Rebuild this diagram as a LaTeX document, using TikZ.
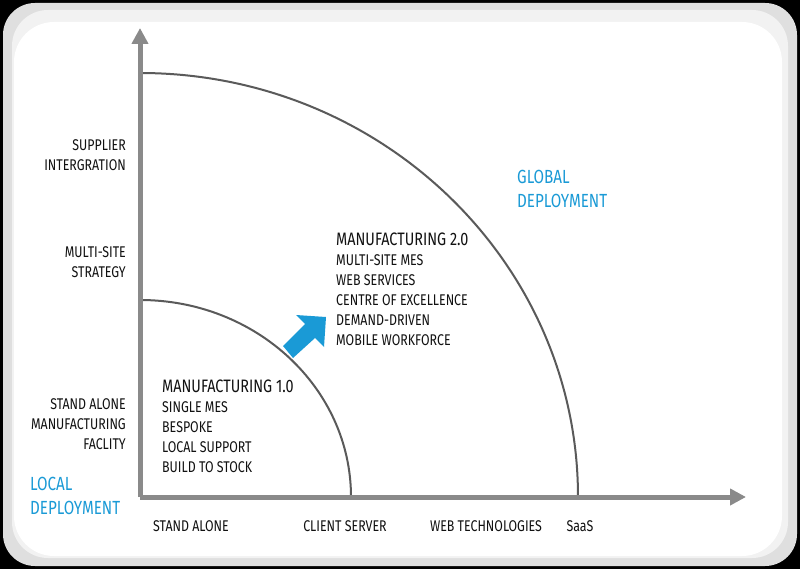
\documentclass[tikz,border=0pt]{standalone}
\usepackage{fontspec}
\setmainfont[FakeStretch=0.8]{Fira Sans}
\usetikzlibrary{arrows.meta}
\definecolor{axisg}{HTML}{8A8A8A}
\definecolor{arcg}{HTML}{5A5A5A}
\definecolor{blu}{HTML}{1A9AD6}
\definecolor{txt}{HTML}{111111}
\tikzset{lbl/.style={font=\fontsize{15.5}{20}\selectfont,text=txt,inner sep=0pt},
 blab/.style={font=\fontsize{19}{24}\selectfont,text=blu,inner sep=0pt,align=left},
 axis/.style={line width=5pt,draw=axisg,-{Triangle[length=16pt,width=16pt]}},
 arcl/.style={line width=2pt,draw=arcg}}
\begin{document}
\begin{tikzpicture}[x=1pt,y=-1pt]
\fill[black] (0,0) rectangle (800,569);
\useasboundingbox (0,0) rectangle (800,569);
\fill[rounded corners=32pt,gray!25] (3,3) rectangle (797,566);
\fill[rounded corners=36pt,gray!10] (12,10) rectangle (788,558);
\fill[rounded corners=40pt,white] (14,22) rectangle (782,556);
\coordinate (o) at (140,497);
\coordinate (ytip) at (140,28);
\coordinate (xtip) at (746,497);
\draw[arcl] (578,497) arc[start angle=0,end angle=90,x radius=438,y radius=-424];
\draw[arcl] (351,497) arc[start angle=0,end angle=90,x radius=211,y radius=-197];
\draw[axis] (o) -- (ytip);
\draw[axis] (o) -- (xtip);
\fill[blu] (283,346) -- (305,324) -- (296,315) -- (326,317) -- (324,347) -- (315,338) -- (293,358) -- cycle;
\node[lbl,anchor=east,align=right] (s) at (126,155) {SUPPLIER\\INTERGRATION};
\node[lbl,anchor=east,align=right] (m) at (126,262) {MULTI-SITE\\STRATEGY};
\node[lbl,anchor=east,align=right] (sa) at (126,424) {STAND ALONE\\MANUFACTURING\\FACLITY};
\node[blab,anchor=west] (ld) at (30,496) {LOCAL\\DEPLOYMENT};
\node[blab,anchor=west] (gd) at (517,189) {GLOBAL\\DEPLOYMENT};
\node[lbl] (x1) at (191,526) {STAND ALONE};
\node[lbl] (x2) at (345,526) {CLIENT SERVER};
\node[lbl] (x3) at (486,526) {WEB TECHNOLOGIES};
\node[lbl] (x4) at (580,526) {SaaS};
\node[lbl,anchor=north west,align=left] (m2) at (336,233) {{\fontsize{18}{20}\selectfont MANUFACTURING 2.0}\\MULTI-SITE MES\\WEB SERVICES\\CENTRE OF EXCELLENCE\\DEMAND-DRIVEN\\MOBILE WORKFORCE};
\node[lbl,anchor=north west,align=left] (m1) at (162,380) {{\fontsize{18}{20}\selectfont MANUFACTURING 1.0}\\SINGLE MES\\BESPOKE\\LOCAL SUPPORT\\BUILD TO STOCK};
\end{tikzpicture}
\end{document}
